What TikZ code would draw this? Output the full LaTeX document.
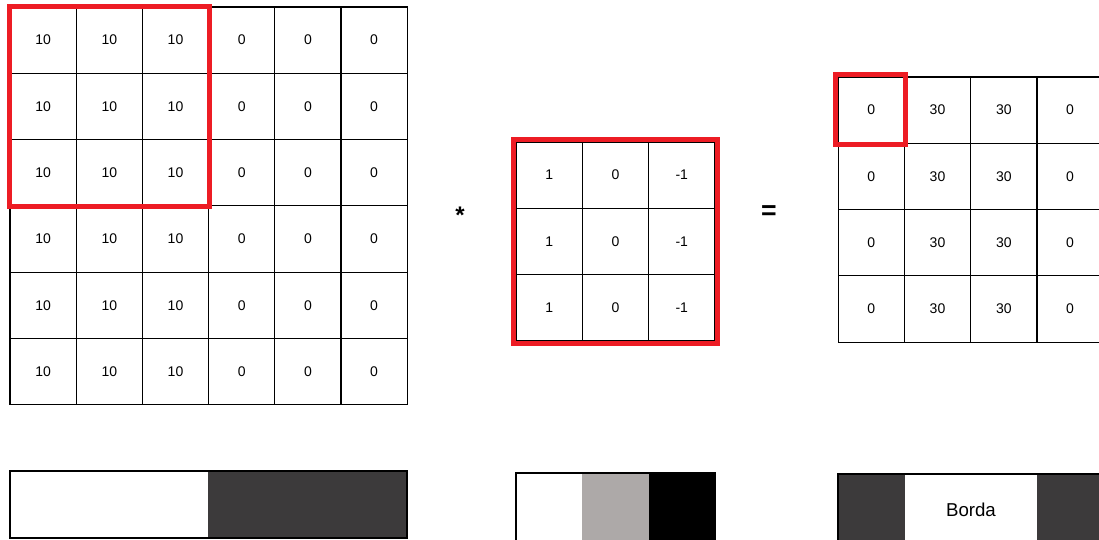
\documentclass[tikz,border=0pt]{standalone}
\usepackage{fontspec}
\setmainfont{Liberation Sans}
\usetikzlibrary{positioning}
\definecolor{frameRed}{HTML}{ED1C24}
\definecolor{darkFill}{HTML}{3C3A3B}
\definecolor{midGray}{HTML}{ADA9A8}
\tikzset{
    cell/.style={draw=black, line width=0.8pt, minimum size=49.7pt, inner sep=0pt, font=\fontsize{10.5}{12}\selectfont},
    redframe/.style={draw=frameRed, line width=3.9pt},
    barseg/.style={minimum height=50.2pt, inner sep=0pt, outer sep=0pt},
    barframe/.style={draw=black, line width=1.5pt},
    op/.style={font=\fontsize{18}{20}\selectfont\bfseries, inner sep=0pt}
}
\begin{document}
\begin{tikzpicture}[x=0.75pt, y=-0.75pt]
    \useasboundingbox (0,0) rectangle (1099,539);
    \clip (0,0) rectangle (1099,539);

    % input image 6x6
    \foreach \r in {1,...,6}
        \foreach \c in {1,...,6}
            \node [cell] (in-\r-\c) at ({10+66.2*(\c-0.5)}, {7+66.3*(\r-0.5)}) {\ifnum\c<4 10\else 0\fi};
    \draw [redframe] (in-1-1.north west) rectangle (in-3-3.south east);

    % filter 3x3
    \node [op] (star) at (460, 215) {*};
    \foreach \r in {1,2,3} {
        \node [cell] (k-\r-1) at (549.2, {142+66.3*(\r-0.5)}) {1};
        \node [cell] (k-\r-2) at (615.5, {142+66.3*(\r-0.5)}) {0};
        \node [cell] (k-\r-3) at (681.8, {142+66.3*(\r-0.5)}) {-1};
    }
    \draw [redframe] ([shift={(-2,-2)}]k-1-1.north west) rectangle ([shift={(2,2)}]k-3-3.south east);

    % output 4x4
    \node [op, font=\fontsize{20}{22}\selectfont\bfseries] (eq) at (769, 213) {=};
    \foreach \r in {1,...,4} {
        \node [cell] (out-\r-1) at (871.2, {77+66.3*(\r-0.5)}) {0};
        \node [cell] (out-\r-2) at (937.5, {77+66.3*(\r-0.5)}) {30};
        \node [cell] (out-\r-3) at (1003.8, {77+66.3*(\r-0.5)}) {30};
        \node [cell] (out-\r-4) at (1070.1, {77+66.3*(\r-0.5)}) {0};
    }
    \draw [redframe] ([shift={(-2,-2)}]out-1-1.north west) rectangle ([shift={(1,1)}]out-1-1.south east);

    % intensity bars
    \node [barseg, fill=white, minimum width=148.5pt] (img-light) at (109.3, 504.5) {};
    \node [barseg, fill=darkFill, minimum width=149.2pt, right=0pt of img-light] (img-dark) {};
    \draw [barframe] (img-light.north west) rectangle (img-dark.south east);

    \node [barseg, fill=white, minimum width=49.7pt, minimum height=65pt] (flt-white) at (549.2, 516.5) {};
    \node [barseg, fill=midGray, minimum width=49.7pt, minimum height=65pt, right=0pt of flt-white] (flt-gray) {};
    \node [barseg, fill=black, minimum width=49.7pt, minimum height=65pt, right=0pt of flt-gray] (flt-black) {};
    \draw [barframe] (flt-white.north west) rectangle (flt-black.south east);

    \node [barseg, fill=darkFill, minimum width=50.2pt, minimum height=65pt] (res-left) at (871.5, 517.5) {};
    \node [barseg, fill=white, minimum width=99pt, minimum height=65pt, right=0pt of res-left,
           font=\fontsize{14}{16}\selectfont, text depth=12pt] (res-edge) {Borda};
    \node [barseg, fill=darkFill, minimum width=50.2pt, minimum height=65pt, right=0pt of res-edge] (res-right) {};
    \draw [barframe] (res-left.north west) rectangle (res-right.south east);
\end{tikzpicture}
\end{document}
